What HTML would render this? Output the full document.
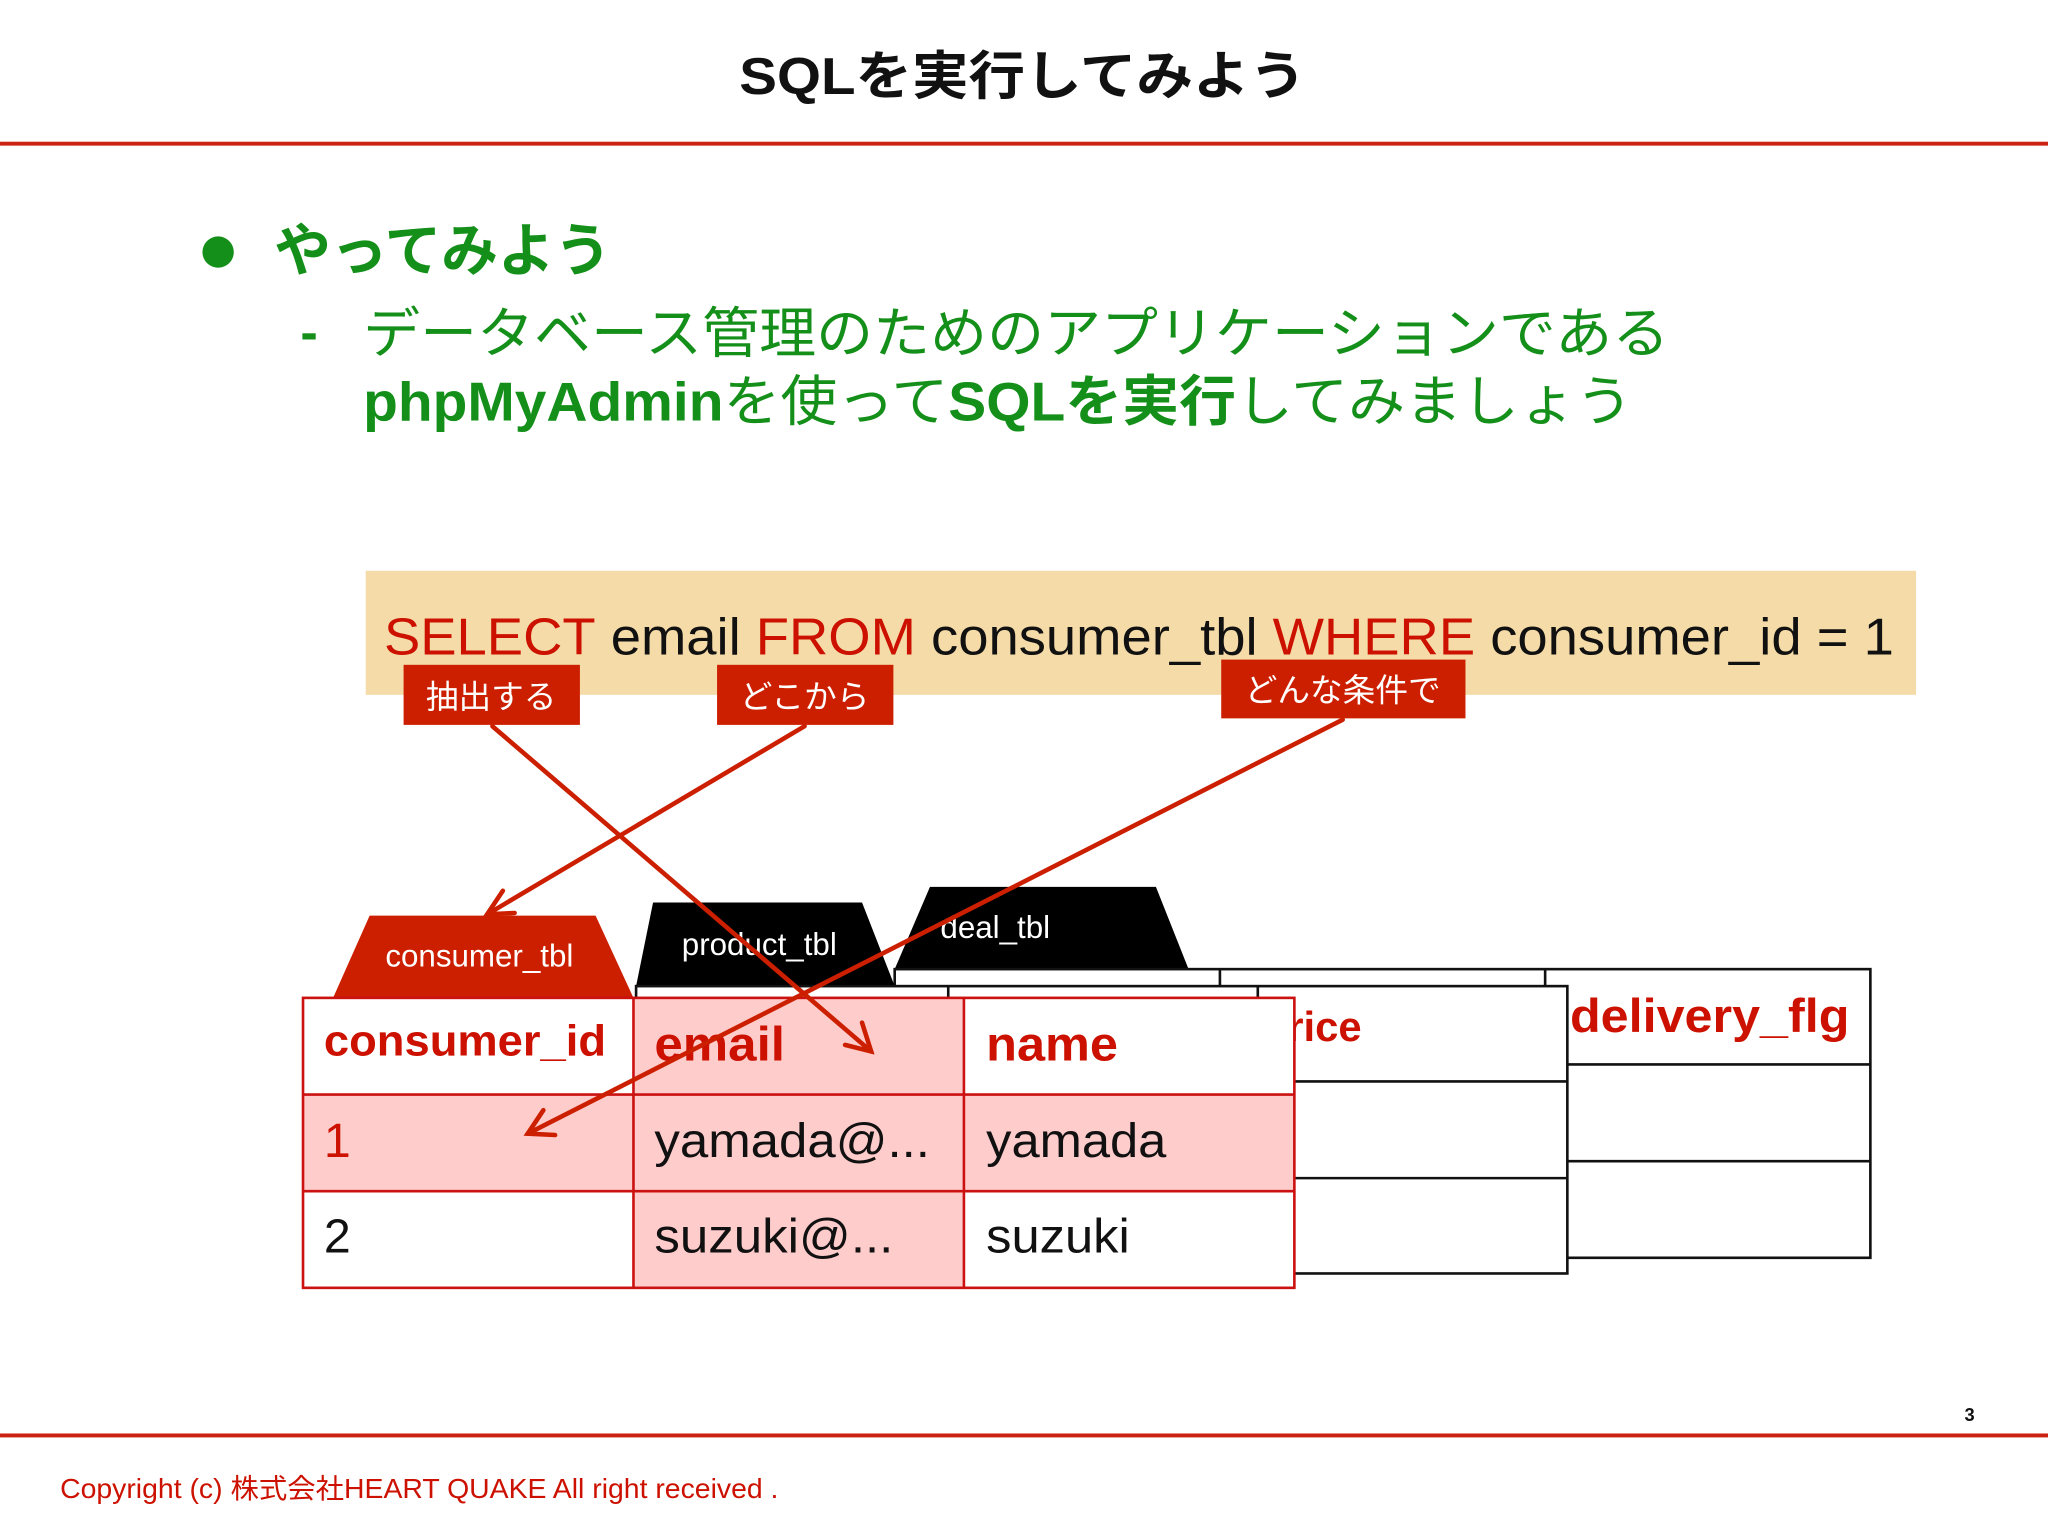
<!DOCTYPE html>
<html><head><meta charset="utf-8"><style>
html,body{margin:0;padding:0;background:#fff;width:2048px;height:1536px;overflow:hidden}
svg{display:block}
text{font-family:"Liberation Sans","Noto Sans CJK JP",sans-serif}
</style></head><body>
<svg width="2048" height="1536" viewBox="0 0 1568 1176" xmlns="http://www.w3.org/2000/svg">
<rect width="1568" height="1176" fill="#fff"/>
<text x="566" y="72" font-size="40" font-weight="bold" fill="#111" textLength="434" lengthAdjust="spacingAndGlyphs">SQLを実行してみよう</text>
<rect x="0" y="108.5" width="1568" height="3" fill="#cc2211"/>
<circle cx="167" cy="193" r="12" fill="#14901a"/>
<text x="210" y="207" font-size="44" font-weight="bold" fill="#14901a" textLength="258" lengthAdjust="spacingAndGlyphs">やってみよう</text>
<text x="230" y="268" font-size="40" font-weight="bold" fill="#14901a">-</text>
<text x="278" y="270" font-size="42" fill="#14901a" textLength="1000" lengthAdjust="spacingAndGlyphs">データベース管理のためのアプリケーションである</text>
<text x="278" y="322" font-size="42" fill="#14901a" textLength="972" lengthAdjust="spacingAndGlyphs"><tspan font-weight="bold">phpMyAdmin</tspan>を使って<tspan font-weight="bold">SQLを実行</tspan>してみましょう</text>

<rect x="280" y="437" width="1187" height="95" fill="#f4dba8"/>
<text x="294" y="501" font-size="40" textLength="1156" lengthAdjust="spacingAndGlyphs"><tspan fill="#cc1100">SELECT</tspan><tspan fill="#111"> email </tspan><tspan fill="#cc1100">FROM</tspan><tspan fill="#111"> consumer_tbl </tspan><tspan fill="#cc1100">WHERE</tspan><tspan fill="#111"> consumer_id = 1</tspan></text>
<rect x="309" y="509" width="135" height="46" fill="#cc1f00"/>
<text x="376" y="542" text-anchor="middle" font-size="25" fill="#fff">抽出する</text>
<rect x="549" y="509" width="135" height="46" fill="#cc1f00"/>
<text x="616" y="542" text-anchor="middle" font-size="25" fill="#fff">どこから</text>
<rect x="935" y="505" width="187" height="45" fill="#cc1f00"/>
<text x="1028" y="537" text-anchor="middle" font-size="25" fill="#fff">どんな条件で</text>

<polygon points="712,679 885,679 910,742 685,742" fill="#000"/>
<text x="720" y="718" font-size="24" fill="#fff">deal_tbl</text>
<g fill="none" stroke="#111" stroke-width="2">
<rect x="685" y="742" width="747" height="221" fill="#fff"/>
<line x1="934" y1="742" x2="934" y2="963"/><line x1="1183" y1="742" x2="1183" y2="963"/>
<line x1="1183" y1="815" x2="1432" y2="815"/><line x1="1183" y1="889" x2="1432" y2="889"/>
</g>
<text x="1202" y="790" font-size="36" font-weight="bold" fill="#cc1100" textLength="214" lengthAdjust="spacingAndGlyphs">delivery_flg</text>

<polygon points="500,691 660,691 685,755 487,755" fill="#000"/>
<text x="522" y="731" font-size="24" fill="#fff">product_tbl</text>
<g fill="none" stroke="#111" stroke-width="2">
<rect x="487" y="755" width="713" height="220" fill="#fff"/>
<line x1="726" y1="755" x2="726" y2="975"/><line x1="963" y1="755" x2="963" y2="975"/>
<line x1="963" y1="828" x2="1200" y2="828"/><line x1="963" y1="902" x2="1200" y2="902"/>
</g>
<text x="966" y="797" font-size="32" font-weight="bold" fill="#cc1100">price</text>

<polygon points="283,701 456,701 485,764 255,764" fill="#cc1f00"/>
<text x="367" y="740" text-anchor="middle" font-size="24" fill="#fff">consumer_tbl</text>
<rect x="232" y="764" width="759" height="222" fill="#fff"/>
<rect x="485" y="764" width="253" height="222" fill="#ffcccc"/>
<rect x="232" y="838" width="759" height="74" fill="#ffcccc"/>
<g fill="none" stroke="#cc1111" stroke-width="2">
<rect x="232" y="764" width="759" height="222"/>
<line x1="485" y1="764" x2="485" y2="986"/><line x1="738" y1="764" x2="738" y2="986"/>
<line x1="232" y1="838" x2="991" y2="838"/><line x1="232" y1="912" x2="991" y2="912"/>
</g>
<text x="248" y="808" font-size="33" font-weight="bold" fill="#cc1100" textLength="216" lengthAdjust="spacingAndGlyphs">consumer_id</text>
<text x="501" y="812" font-size="37" font-weight="bold" fill="#cc1100" textLength="100" lengthAdjust="spacingAndGlyphs">email</text>
<text x="755" y="812" font-size="37" font-weight="bold" fill="#cc1100" textLength="101" lengthAdjust="spacingAndGlyphs">name</text>
<text x="248" y="886" font-size="37" fill="#cc1100">1</text>
<text x="501" y="886" font-size="37" fill="#111" textLength="211" lengthAdjust="spacingAndGlyphs">yamada@...</text>
<text x="755" y="886" font-size="37" fill="#111" textLength="138" lengthAdjust="spacingAndGlyphs">yamada</text>
<text x="248" y="959" font-size="37" fill="#111">2</text>
<text x="501" y="959" font-size="37" fill="#111" textLength="183" lengthAdjust="spacingAndGlyphs">suzuki@...</text>
<text x="755" y="959" font-size="37" fill="#111" textLength="110" lengthAdjust="spacingAndGlyphs">suzuki</text>

<g stroke="#cc1f00" stroke-width="3.5" fill="none" stroke-linecap="round">
<line x1="377" y1="556" x2="667" y2="805"/>
<polyline points="647,800 667,805 660,783"/>
<line x1="616" y1="556" x2="373" y2="700"/>
<polyline points="385,682 373,700 394,699"/>
<line x1="1028" y1="551" x2="404" y2="868"/>
<polyline points="416,850 404,868 425,869"/>
</g>

<text x="1508" y="1088" text-anchor="middle" font-size="14" font-weight="bold" fill="#111">3</text>
<rect x="0" y="1097.5" width="1568" height="3" fill="#cc2211"/>
<text x="46" y="1147" font-size="21" fill="#cc1100" textLength="550" lengthAdjust="spacingAndGlyphs">Copyright (c) 株式会社HEART QUAKE All right received .</text>
</svg>
</body></html>
